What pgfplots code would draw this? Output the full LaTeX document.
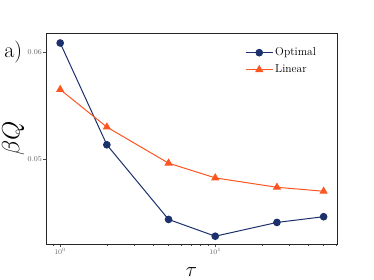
\documentclass[border=0pt]{standalone}
\usepackage{pgfplots}
\pgfplotsset{compat=1.18}
\definecolor{navy}{RGB}{28,48,108}
\definecolor{orng}{RGB}{252,86,34}
\definecolor{tickgray}{RGB}{100,100,100}
\begin{document}
\begin{tikzpicture}
\begin{axis}[
  scale only axis,
  width=291pt, height=211pt,
  xmode=log, ymode=log,
  xmin=0.81, xmax=61,
  ymin=0.04327, ymax=0.06199,
  ytick={0.05,0.06},
  yticklabels={0.05,0.06},
  yminorticks=false,
  xtick pos=bottom, ytick pos=left,
  tick align=outside,
  major tick length=3.5pt,
  minor tick length=2pt,
  tick style={black!70, line width=0.6pt},
  axis line style={black!85, line width=0.9pt},
  ticklabel style={font=\fontsize{7.5}{8.5}\selectfont, text=tickgray},
  yticklabel style={inner sep=0.5pt},
  xticklabel style={inner sep=1pt},
  xlabel={$\tau$},
  ylabel={$\beta Q$},
  xlabel style={at={(axis description cs:0.5,-0.133)}, anchor=center, font=\fontsize{20}{22}\selectfont},
  ylabel style={at={(axis description cs:-0.113,0.5)}, anchor=center, font=\fontsize{23}{25}\selectfont},
  clip=false,
  legend style={draw=none, fill=none, at={(0.684,0.94)}, anchor=north west,
    font=\fontsize{11.5}{13}\selectfont, inner sep=0pt,
    row sep=3.5pt,
    nodes={inner sep=2pt}},
  legend cell align=left,
  legend image code/.code={\draw[mark repeat=2,mark phase=2] plot coordinates {(0pt,0pt)(13.5pt,0pt)(27pt,0pt)};},
]
\addplot[navy, line width=1pt, mark=*, mark size=3.3pt, mark options={solid, fill=navy, draw=navy}]
  coordinates {(1,0.06095) (2,0.05124) (5,0.04512) (10,0.04385) (25,0.04489) (50,0.04533)};
\addlegendentry{Optimal}
\addplot[orng, line width=1pt, mark=triangle*, mark size=3.8pt, mark options={solid, fill=orng, draw=orng}]
  coordinates {(1,0.0563) (2,0.05281) (5,0.04966) (10,0.04843) (25,0.04766) (50,0.04734)};
\addlegendentry{Linear}
\node[anchor=base west, font=\fontsize{22}{24}\selectfont, inner sep=0pt] at (rel axis cs:-0.144,0.883) {a)};
\end{axis}
\pgfresetboundingbox
\path (current axis.south west) ++(-46pt,-36pt) rectangle ++(374pt,280pt);
\end{tikzpicture}
\end{document}
